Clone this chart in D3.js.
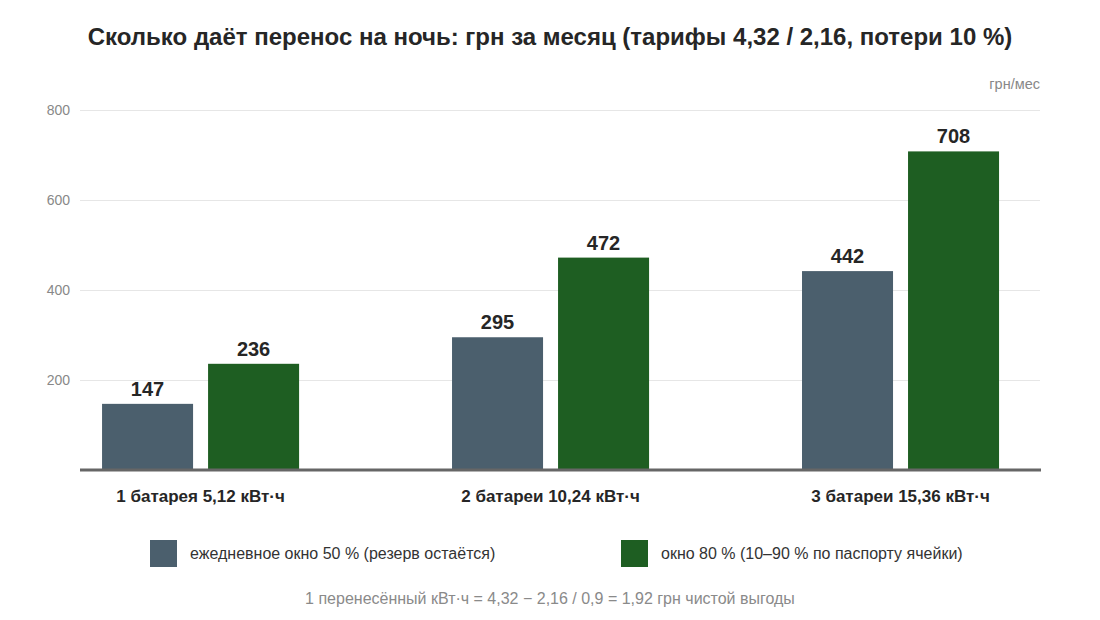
<!DOCTYPE html>
<html>
<head>
<meta charset="utf-8">
<script src="https://cdn.jsdelivr.net/npm/d3@7"></script>
<style>
	body { margin: 0; background: #fff; }
	svg { font-family: 'Liberation Sans', Arial, sans-serif; }
</style>
</head>
<body>
<div id="chart"></div>
<script>
// data
const categories = ['1 батарея 5,12 кВт·ч', '2 батареи 10,24 кВт·ч', '3 батареи 15,36 кВт·ч']
const seriesNames = ['ежедневное окно 50 % (резерв остаётся)', 'окно 80 % (10–90 % по паспорту ячейки)']
const window50 = [147, 295, 442]
const window80 = [236, 472, 708]
const yTicks = [200, 400, 600, 800]
const colours = ['#4b5f6d', '#1e5e22']

const width = 1100, height = 620

const svg = d3.select('#chart')
	.append('svg')
	.attr('width', width)
	.attr('height', height)

// title
svg.append('text')
	.attr('x', width / 2)
	.attr('y', 45)
	.attr('text-anchor', 'middle')
	.style('font-size', '24px')
	.style('font-weight', 'bold')
	.style('fill', '#262626')
	.text('Сколько даёт перенос на ночь: грн за месяц (тарифы 4,32 / 2,16, потери 10 %)')

// scales
const x0 = d3.scaleBand()
	.domain(categories)
	.range([80, 1040])
	.paddingInner(0.437)
	.paddingOuter(0.09)
	.align(0.35)

const x1 = d3.scaleBand()
	.domain(seriesNames)
	.range([0, x0.bandwidth()])
	.paddingInner(0.1415)

const y = d3.scaleLinear()
	.domain([0, 800])
	.range([470, 110])

// grid lines + tick labels
const yAxis = d3.axisLeft(y)
	.tickValues(yTicks)
	.tickSize(-960)
	.tickPadding(10)

const gAxis = svg.append('g')
	.attr('transform', 'translate(80,0)')
	.call(yAxis)
gAxis.select('.domain').remove()
gAxis.selectAll('.tick line').attr('stroke', '#e6e6e6')
gAxis.selectAll('.tick text')
	.style('font-size', '14px')
	.style('fill', '#888')
	.attr('font-family', null)

// unit label
svg.append('text')
	.attr('x', 1040)
	.attr('y', 89)
	.attr('text-anchor', 'end')
	.style('font-size', '14.5px')
	.style('fill', '#888')
	.text('грн/мес')

// bars
const rows = categories.map((c, i) => ({cat: c, values: [window50[i], window80[i]]}))

const group = svg.selectAll('g.group')
	.data(rows)
	.enter()
	.append('g')
	.attr('class', 'group')
	.attr('transform', d => 'translate(' + x0(d.cat) + ',0)')

group.selectAll('rect')
	.data(d => d.values.map((v, j) => ({name: seriesNames[j], value: v, j})))
	.enter()
	.append('rect')
	.attr('x', d => x1(d.name))
	.attr('y', d => y(d.value))
	.attr('width', x1.bandwidth())
	.attr('height', d => y(0) - y(d.value))
	.style('fill', d => colours[d.j])

group.selectAll('text.value')
	.data(d => d.values.map((v, j) => ({name: seriesNames[j], value: v})))
	.enter()
	.append('text')
	.attr('class', 'value')
	.attr('x', d => x1(d.name) + x1.bandwidth() / 2)
	.attr('y', d => y(d.value) - 8)
	.attr('text-anchor', 'middle')
	.style('font-size', '20px')
	.style('font-weight', 'bold')
	.style('fill', '#262626')
	.text(d => d.value)

// baseline
svg.append('line')
	.attr('x1', 80)
	.attr('x2', 1041)
	.attr('y1', y(0))
	.attr('y2', y(0))
	.style('stroke', '#666')
	.style('stroke-width', 3)

// category labels
svg.selectAll('text.cat')
	.data(categories)
	.enter()
	.append('text')
	.attr('class', 'cat')
	.attr('x', d => x0(d) + x0.bandwidth() / 2)
	.attr('y', 502)
	.attr('text-anchor', 'middle')
	.style('font-size', '17px')
	.style('font-weight', 'bold')
	.style('fill', '#262626')
	.text(d => d)

// legend
const legendX = [150, 621]
const legend = svg.selectAll('g.legend')
	.data(seriesNames)
	.enter()
	.append('g')
	.attr('class', 'legend')
	.attr('transform', (d, i) => 'translate(' + legendX[i] + ',540)')

legend.append('rect')
	.attr('width', 27)
	.attr('height', 27)
	.style('fill', (d, i) => colours[i])

legend.append('text')
	.attr('x', 40)
	.attr('y', 19)
	.style('font-size', '16px')
	.style('fill', '#333')
	.text(d => d)

// footnote
svg.append('text')
	.attr('x', width / 2)
	.attr('y', 604)
	.attr('text-anchor', 'middle')
	.style('font-size', '16px')
	.style('fill', '#8a8a8a')
	.text('1 перенесённый кВт·ч = 4,32 − 2,16 / 0,9 = 1,92 грн чистой выгоды')
</script>
</body>
</html>
